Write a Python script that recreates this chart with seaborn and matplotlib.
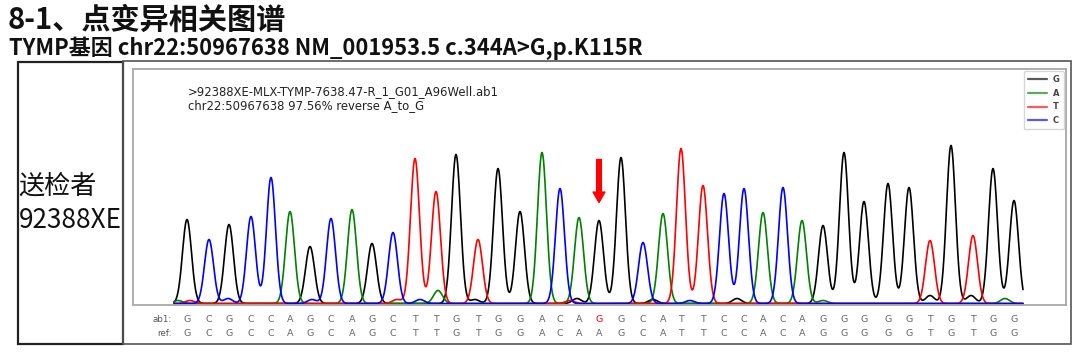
import numpy as np
import pandas as pd
import matplotlib
matplotlib.use("Agg")
import matplotlib.pyplot as plt
import seaborn as sns
from matplotlib.patches import Rectangle

# ---------------- data ----------------
title = "8-1、点变异相关图谱"
subtitle = "TYMP基因 chr22:50967638 NM_001953.5 c.344A>G,p.K115R"
sample_name = "送检者"
sample_id = "92388XE"
trace_title = ">92388XE-MLX-TYMP-7638.47-R_1_G01_A96Well.ab1\nchr22:50967638 97.56% reverse A_to_G"

bases = ["G", "A", "T", "C"]
ab1_seq = list("GCGCCAGCAGCTTGTGGACAGGCATTCCACAGGGGGTGTGG")
ref_seq = list("GCGCCAGCAGCTTGTGGACAAGCATTCCACAGGGGGTGTGG")
mutation_index = 20

peak_scan = [187, 209, 229, 251, 271, 290, 310, 331, 352, 372,
             393, 415, 436, 456, 478, 498, 520, 542, 560, 579,
             599, 621, 643, 663, 681, 703, 724, 744, 763, 783,
             802, 823, 844, 864, 888, 909, 930, 951, 973, 993, 1014]
peak_height = [84, 64, 79, 87, 126, 92, 57, 85, 94, 60,
               71, 145, 112, 149, 64, 135, 92, 151, 115, 86,
               83, 146, 61, 90, 155, 118, 110, 115, 91, 116,
               83, 78, 151, 102, 120, 116, 63, 158, 68, 135, 103]

minor_scan = [178, 190, 228, 312, 397, 420, 438, 475, 570, 577,
              653, 690, 737, 823, 930, 971, 1005]
minor_base = ["A", "T", "C", "C", "T", "C", "A", "G", "T", "G",
              "G", "C", "G", "A", "G", "G", "A"]
minor_height = [3, 3, 5, 4, 4, 4, 13, 4, 3, 5,
                4, 3, 5, 3, 8, 8, 5]

scan_start, scan_end = 174, 1023
peak_sigma = 4.5

palette = {"G": "black", "A": "green", "T": "red", "C": "blue"}

# ---------------- build traces ----------------
scan = np.arange(scan_start, scan_end + 0.25, 0.5)
rows = []
for b in bases:
    y = np.zeros_like(scan, dtype=float)
    for s, h, base in zip(peak_scan, peak_height, ab1_seq):
        if base == b:
            y += h * np.exp(-0.5 * ((scan - s) / peak_sigma) ** 2)
    for s, h, base in zip(minor_scan, minor_height, minor_base):
        if base == b:
            y += h * np.exp(-0.5 * ((scan - s) / peak_sigma) ** 2)
    rows.append(pd.DataFrame({"scan": scan, "signal": y, "base": b}))
df = pd.concat(rows, ignore_index=True)

# ---------------- figure ----------------
sns.set_style("white")
plt.rcParams["font.family"] = ["Noto Sans CJK SC", "DejaVu Sans"]

W, H = 1080, 354
fig = plt.figure(figsize=(W / 100, H / 100), dpi=100)


def fx(px):
    return px / W


def fy(py):
    return 1 - py / H


# titles
fig.text(fx(8), fy(20), title, fontsize=21, fontweight="bold", va="center", ha="left", color="#111111")
fig.text(fx(9), fy(48), subtitle, fontsize=15.8, fontweight="bold", va="center", ha="left", color="#111111")

# table cells
fig.add_artist(Rectangle((fx(18), fy(344)), fx(123) - fx(18), fy(62) - fy(344),
                         transform=fig.transFigure, fill=False, edgecolor="#222222", linewidth=1.6))
fig.add_artist(Rectangle((fx(123), fy(344)), fx(1071) - fx(123), fy(61) - fy(344),
                         transform=fig.transFigure, fill=False, edgecolor="#555555", linewidth=1.2))

fig.text(fx(18.5), fy(186), sample_name, fontsize=18.8, va="center", ha="left", color="#111111")
fig.text(fx(18.5), fy(221), sample_id, fontsize=18.8, va="center", ha="left", color="#111111")

# chromatogram axes
ax = fig.add_axes([fx(133), fy(305), fx(1066) - fx(133), fy(69) - fy(305)])
sns.lineplot(data=df, x="scan", y="signal", hue="base", hue_order=bases, palette=palette,
             estimator=None, sort=False, linewidth=1.2, ax=ax)
ax.set_xlim(133, 1066)
ax.set_ylim(-1.5, 234.5)
ax.set_xticks([])
ax.set_yticks([])
ax.set_xlabel("")
ax.set_ylabel("")
for sp in ax.spines.values():
    sp.set_visible(True)
    sp.set_color("#a8a8a8")
    sp.set_linewidth(1.3)

sns.move_legend(ax, "upper right", title=None, fontsize=6, frameon=True,
                handlelength=2.3, labelspacing=0.55, borderpad=0.5,
                borderaxespad=0.25, handletextpad=0.7)
leg = ax.get_legend()
for line in leg.get_lines():
    line.set_alpha(0.65)
    line.set_linewidth(1.6)
for t in leg.get_texts():
    t.set_family("DejaVu Sans")
    t.set_fontweight("bold")
    t.set_color("#444444")

ax.text(188, 0.875, trace_title, transform=ax.get_xaxis_transform(), fontsize=8.4,
        family="DejaVu Sans", va="center", ha="left", color="#222222", linespacing=1.1)

# mutation arrow
mx, mh = peak_scan[mutation_index], peak_height[mutation_index]
ax.annotate("", xy=(mx, mh + 18), xytext=(mx, mh + 61),
            arrowprops=dict(facecolor="red", edgecolor="red", width=3.4, headwidth=8.5,
                            headlength=7.5, shrink=0))

# base calls
tr = ax.get_xaxis_transform()
row_y = [(305 - 319.5) / 236, (305 - 333.5) / 236]
ax.text(172, row_y[0], "ab1:", transform=tr, fontsize=6.3, family="DejaVu Sans",
        ha="right", va="center", color="#555555", clip_on=False)
ax.text(172, row_y[1], "ref:", transform=tr, fontsize=6.3, family="DejaVu Sans",
        ha="right", va="center", color="#555555", clip_on=False)
for i, (s, a, r) in enumerate(zip(peak_scan, ab1_seq, ref_seq)):
    ax.text(s, row_y[0], a, transform=tr, fontsize=6.8, family="DejaVu Sans",
            ha="center", va="center", color="red" if a != r else "#666666", clip_on=False)
    ax.text(s, row_y[1], r, transform=tr, fontsize=6.8, family="DejaVu Sans",
            ha="center", va="center", color="#666666", clip_on=False)

fig.savefig("out.png", dpi=100)
